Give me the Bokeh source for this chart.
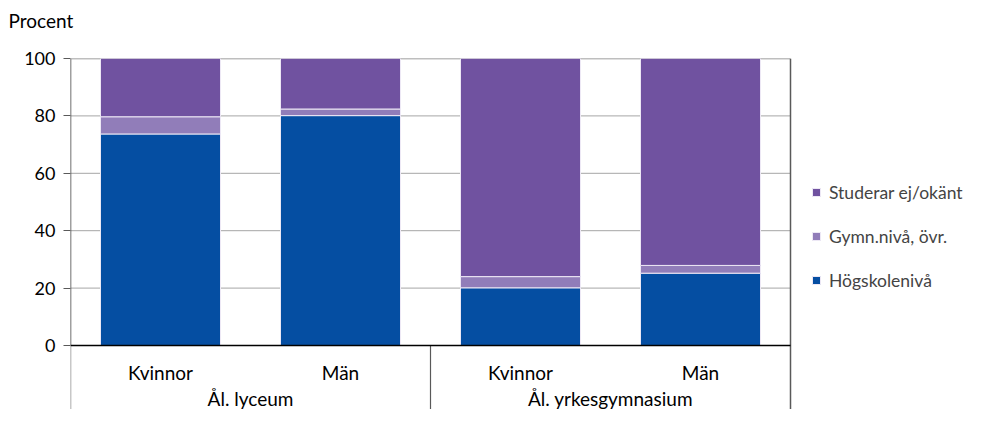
from bokeh.plotting import figure
from bokeh.models import Range1d, FixedTicker, Legend, LegendItem, ColumnDataSource, Title
from bokeh.core.properties import value
from bokeh.embed import file_html
from bokeh.resources import INLINE

# ---- data ----
groups = ["Ål. lyceum", "Ål. yrkesgymnasium"]
genders = ["Kvinnor", "Män"]
hogskolenivå = [73.7, 80.1, 20.1, 25.2]
gymn_niva = [6.0, 2.3, 3.9, 2.7]
studerar_ej = [20.3, 17.6, 76.0, 72.1]
series_names = ["Högskolenivå", "Gymn.nivå, övr.", "Studerar ej/okänt"]
colors = ["#054EA2", "#917DB9", "#7052A0"]
y_ticks = [0, 20, 40, 60, 80, 100]
grid_ticks = [20, 40, 60, 80]

FONT = "Lato"
Y_BOTTOM = -22.3
n = len(groups) * len(genders)
X_END = n * 896 / 720   # frame also holds the legend area right of the bars

xs = [i + 0.5 for i in range(n)]
sub_labels = [g for _ in groups for g in genders]
group_x = [len(genders) * j + len(genders) / 2 for j in range(len(groups))]

src = ColumnDataSource(dict(x=xs, h=hogskolenivå, g=gymn_niva, s=studerar_ej))

p = figure(width=966, height=409, output_backend="svg", toolbar_location=None,
           x_range=Range1d(0, X_END), y_range=Range1d(Y_BOTTOM, 100),
           x_axis_location=None, min_border_left=70, min_border_right=0,
           min_border_top=58, min_border_bottom=0)
p.outline_line_color = None
p.xgrid.visible = False
p.ygrid.visible = False

# spacer between frame and the "Procent" title
p.add_layout(Title(text=" ", text_font=FONT, text_font_size="19px", standoff=2), "above")

p.title.text = "Procent"
p.title.align = "left"
p.title.vertical_align = "bottom"
p.title.offset = -62
p.title.standoff = 0
p.title.text_font = FONT
p.title.text_font_size = "19px"
p.title.text_font_style = "normal"
p.title.text_color = "#000000"

ax = p.yaxis[0]
ax.ticker = FixedTicker(ticks=y_ticks)
ax.axis_line_color = None
ax.major_tick_in = 0
ax.major_tick_out = 7
ax.major_tick_line_color = "#595959"
ax.minor_tick_line_color = None
ax.major_label_text_font = FONT
ax.major_label_text_font_size = "18px"
ax.major_label_text_color = "#000000"
ax.major_label_standoff = 8

# gridlines and frame lines
p.segment(x0=[0] * len(grid_ticks), y0=grid_ticks, x1=[n] * len(grid_ticks), y1=grid_ticks,
          line_color="#A6A6A6", line_width=1)
p.segment(x0=[0, 0], y0=[0, Y_BOTTOM], x1=[0, 0], y1=[100, 0],
          line_color=["#404040", "#909090"], line_width=1.5)
p.segment(x0=[0], y0=[100], x1=[n], y1=[100], line_color="#7F7F7F", line_width=1.5)
p.segment(x0=[n], y0=[Y_BOTTOM], x1=[n], y1=[100], line_color="#595959", line_width=1.5)
p.segment(x0=[len(genders)], y0=[Y_BOTTOM], x1=[len(genders)], y1=[0],
          line_color="#595959", line_width=1.2)

rs = p.vbar_stack(["h", "g", "s"], x="x", width=2 / 3, source=src, color=colors,
                  line_color="#EDE8F5", line_width=1)

p.segment(x0=[0], y0=[0], x1=[n], y1=[0], line_color="#000000", line_width=1.5)

p.text(x=xs, y=[-9.5] * n, text=sub_labels, text_align="center", text_baseline="middle",
       text_font=value(FONT), text_font_size="19px", text_color="#000000")
p.text(x=group_x, y=[-18.6] * len(groups), text=groups, text_align="center",
       text_baseline="middle", text_font=value(FONT), text_font_size="19px",
       text_color="#000000")

items = [LegendItem(label=series_names[i], renderers=[rs[i]]) for i in (2, 1, 0)]
leg = Legend(items=items, location=(741, 118), orientation="vertical")
leg.border_line_color = None
leg.background_fill_alpha = 0
leg.padding = 0
leg.margin = 0
leg.glyph_width = 10
leg.glyph_height = 10
leg.label_height = 22
leg.spacing = 22
leg.label_standoff = 8
leg.label_text_font = FONT
leg.label_text_font_size = "17.5px"
leg.label_text_baseline = "middle"
p.add_layout(leg, "center")

open("out.html", "w").write(file_html(p, INLINE))
